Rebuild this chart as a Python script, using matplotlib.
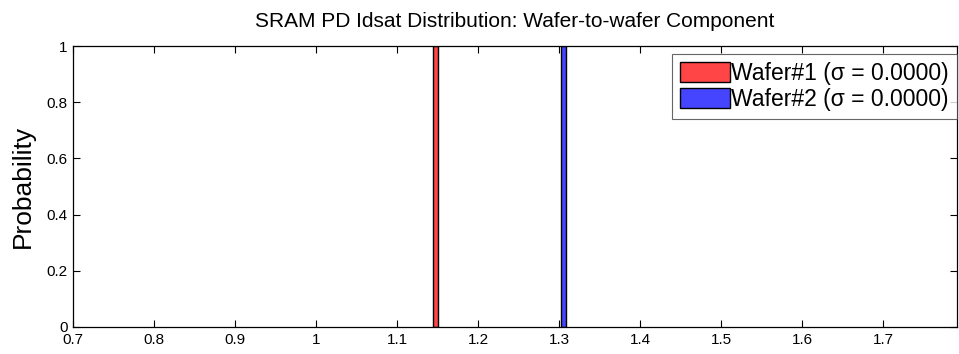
import matplotlib
matplotlib.use("Agg")
import matplotlib.pyplot as plt
from matplotlib.ticker import FuncFormatter

plt.rcParams['font.family'] = ['Liberation Sans', 'DejaVu Sans']

# Wafer-level means of PD Idsat and their probability mass
wafer_names = ["Wafer#1", "Wafer#2"]
wafer_means = [1.148, 1.306]
wafer_prob = [1.0, 1.0]
wafer_sigma = [0.0, 0.0]
wafer_colors = ["#ff4545", "#4545ff"]
bin_width = 0.006

x_ticks = [0.7, 0.8, 0.9, 1.0, 1.1, 1.2, 1.3, 1.4, 1.5, 1.6, 1.7]
y_ticks = [0, 0.2, 0.4, 0.6, 0.8, 1.0]

fig = plt.figure(figsize=(9.59, 3.54), dpi=100)
ax = fig.add_axes([73 / 959, 27 / 354, 884 / 959, 281 / 354])

for name, m, p, s, c in zip(wafer_names, wafer_means, wafer_prob, wafer_sigma, wafer_colors):
    ax.bar(m, p, width=bin_width, color=c, edgecolor="black", linewidth=1.0,
           label=f"{name} (\u03c3 = {s:.4f})")

ax.set_xlim(0.7, 0.7 + 884 / 810)
ax.set_ylim(0, 1)
ax.set_xticks(x_ticks)
ax.set_yticks(y_ticks)
fmt = FuncFormatter(lambda v, pos: f"{v:g}")
ax.xaxis.set_major_formatter(fmt)
ax.yaxis.set_major_formatter(fmt)
ax.tick_params(direction="in", length=5, width=0.8, labelsize=11,
               top=True, right=True, pad=4)
for sp in ax.spines.values():
    sp.set_linewidth(0.9)

ax.set_ylabel("Probability", fontsize=19)
ax.yaxis.set_label_coords(-0.043, 0.5)
ax.set_title("SRAM PD Idsat Distribution: Wafer-to-wafer Component", fontsize=15, pad=14)

leg = ax.legend(loc="upper right", bbox_to_anchor=(1.0, 1 - 8 / 281),
                fontsize=16.5, frameon=True, fancybox=False,
                edgecolor="#404040", handlelength=2.15, handleheight=0.95,
                handletextpad=0.08, borderpad=0.35, labelspacing=0.12,
                borderaxespad=0.0)
leg.get_frame().set_linewidth(0.8)

fig.savefig("out.png", dpi=100)
